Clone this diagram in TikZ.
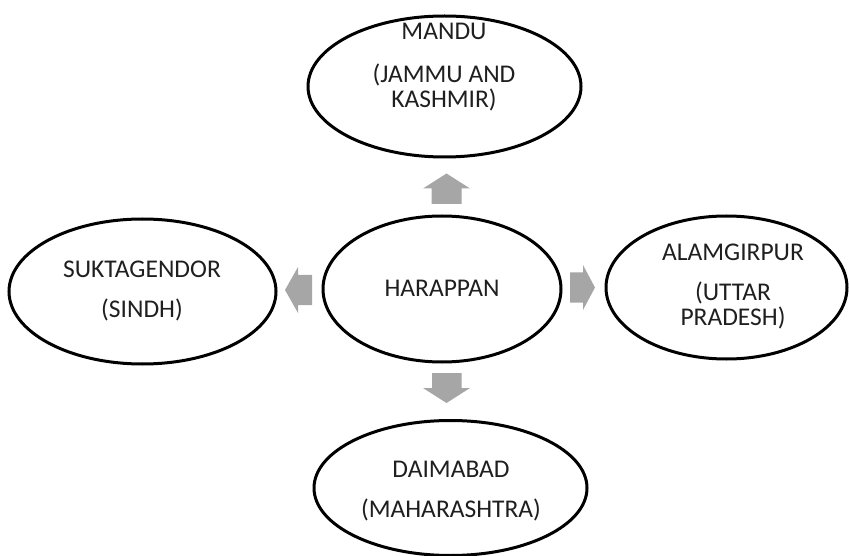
\documentclass[tikz,border=0pt]{standalone}
\usepackage{fontspec}
\setmainfont{Carlito}
\usetikzlibrary{shapes.geometric}
\begin{document}
\begin{tikzpicture}[x=1pt,y=-1pt,
  oval/.style={draw=black, line width=3pt, ellipse, inner sep=0pt},
  lbl/.style={align=center, text=black!88, font=\fontsize{25.5}{25}\selectfont, inner sep=0pt},
  blockarrow/.style={fill=black!35, draw=none}]
\useasboundingbox (0,0) rectangle (849,556);
% ellipses
\node[oval, minimum width=273pt, minimum height=141pt] (top) at (444.5,86.5) {};
\node[oval, minimum width=238pt, minimum height=146pt] (ctr) at (442,289) {};
\node[oval, minimum width=267pt, minimum height=145pt] (lft) at (142.5,291.5) {};
\node[oval, minimum width=241pt, minimum height=143pt] (rgt) at (726.5,287.5) {};
\node[oval, minimum width=273pt, minimum height=135pt] (bot) at (450.5,488) {};
% labels
\node[lbl] (toptxt) at (444,67) {MANDU\\[18pt](JAMMU AND\\KASHMIR)};
\node[lbl] (ctrtxt) at (442,288) {HARAPPAN};
\node[lbl] (lfttxt) at (142,291) {SUKTAGENDOR\\[15pt](SINDH)};
\node[lbl] (rgttxt) at (733,286) {ALAMGIRPUR\\[15pt](UTTAR\\PRADESH)};
\node[lbl] (bottxt) at (451,491) {DAIMABAD\\[15pt](MAHARASHTRA)};
% block arrows
\coordinate (au) at (446.5,188.5);
\coordinate (ad) at (446.5,388);
\coordinate (ar) at (582.5,287.5);
\coordinate (al) at (298.5,290);
\fill[blockarrow, shift={(au)}] (-23.5,0) -- (0,-15) -- (23.5,0) -- (15,0) -- (15,15.5) -- (-15,15.5) -- (-15,0) -- cycle;
\fill[blockarrow, shift={(ad)}] (-14.5,-15) -- (15,-15) -- (15,0) -- (23.5,0) -- (0,15) -- (-23.5,0) -- (-14.5,0) -- cycle;
\fill[blockarrow, shift={(ar)}] (-12.5,-15) -- (0.5,-15) -- (0.5,-22.5) -- (12.5,0) -- (0.5,22.5) -- (0.5,15) -- (-12.5,15) -- cycle;
\fill[blockarrow, shift={(al)}] (13.5,-15) -- (-0.5,-15) -- (-0.5,-23) -- (-13.5,0) -- (-0.5,23) -- (-0.5,15) -- (13.5,15) -- cycle;
\end{tikzpicture}
\end{document}
